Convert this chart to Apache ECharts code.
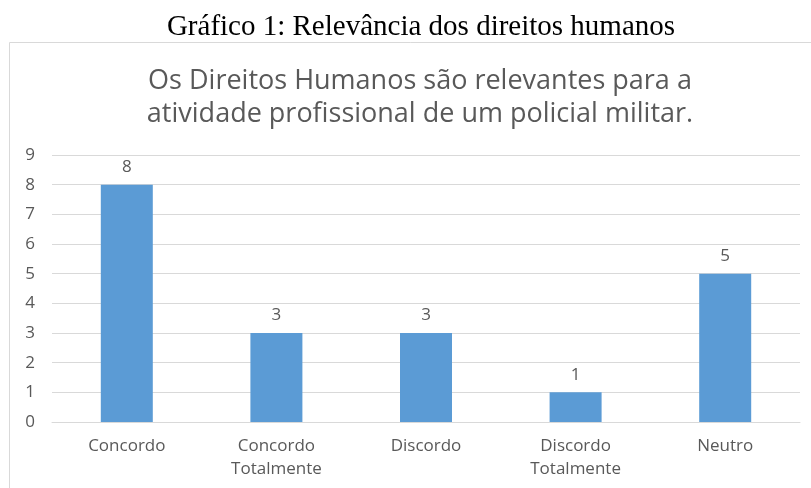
<!DOCTYPE html>
<html>
<head>
<meta charset="utf-8">
<script src="https://cdn.jsdelivr.net/npm/echarts@6/dist/echarts.min.js"></script>
<style>
  html, body { margin: 0; padding: 0; background: #fff; }
  #main { width: 811px; height: 488px; }
</style>
</head>
<body>
<div id="main"></div>
<script>
var categories = ['Concordo', 'Concordo\nTotalmente', 'Discordo', 'Discordo\nTotalmente', 'Neutro'];
var values = [8, 3, 3, 1, 5];
var caption = 'Gráfico 1: Relevância dos direitos humanos';
var chartTitle = 'Os Direitos Humanos são relevantes para a\natividade profissional de um policial militar.';

var myChart = echarts.init(document.getElementById('main'));
var textColor = '#595959';
var font = '"Open Sans", sans-serif';

var option = {
    backgroundColor: '#ffffff',
    animation: false,
    graphic: [{
        type: 'rect',
        shape: { x: 9.5, y: 42.5, width: 820, height: 460 },
        style: { fill: 'none', stroke: '#D9D9D9', lineWidth: 1 },
        z: -1
    }],
    title: [{
        text: caption,
        left: 416,
        textAlign: 'center',
        top: 8,
        textStyle: {
            fontFamily: '"Liberation Serif", serif',
            fontWeight: 'normal',
            fontSize: 29,
            color: '#000'
        }
    }, {
        text: chartTitle,
        left: 415,
        textAlign: 'center',
        top: 60,
        textStyle: {
            fontFamily: font,
            fontWeight: 'normal',
            fontSize: 27,
            lineHeight: 33,
            color: textColor
        }
    }],
    grid: {
        left: 52,
        right: 11,
        top: 155,
        bottom: 66
    },
    xAxis: {
        type: 'category',
        data: categories,
        axisLine: { lineStyle: { color: '#D9D9D9' } },
        axisTick: { show: false },
        axisLabel: {
            color: textColor,
            fontFamily: font,
            fontSize: 17,
            lineHeight: 23,
            margin: 13,
            interval: 0
        }
    },
    yAxis: {
        type: 'value',
        min: 0,
        max: 9,
        interval: 1,
        axisLine: { show: false },
        axisTick: { show: false },
        splitLine: { lineStyle: { color: '#D9D9D9' } },
        axisLabel: {
            color: textColor,
            fontFamily: font,
            fontSize: 17,
            margin: 17
        }
    },
    series: [{
        type: 'bar',
        data: values,
        barWidth: 52,
        itemStyle: { color: '#5B9BD5' },
        label: {
            show: true,
            position: 'top',
            distance: 9,
            color: textColor,
            fontFamily: font,
            fontSize: 17
        }
    }]
};
myChart.setOption(option);
</script>
</body>
</html>
